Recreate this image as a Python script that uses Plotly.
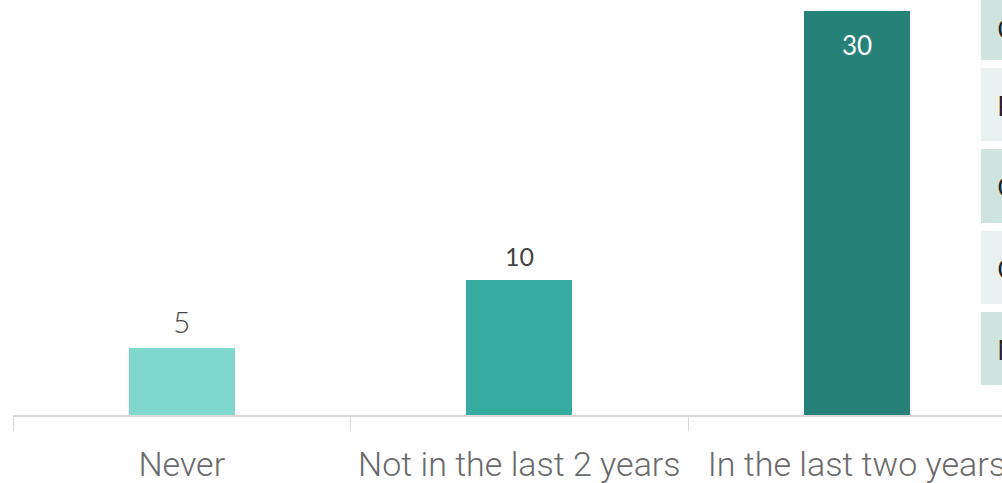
import plotly.graph_objects as go

categories = ["Never", "Not in the last 2 years", "In the last two years"]
values = [5, 10, 30]
bar_colors = ["#7fd8cc", "#36ab9f", "#268176"]
side_labels = ["Often", "Rarely", "Occasionally", "Once", "Never"]

W, H = 1002, 483
ml, mr, mt, mb = 13, 0, 0, 68

fig = go.Figure()
fig.add_trace(go.Bar(
    x=categories, y=values, marker_color=bar_colors, width=0.315,
    marker_line_width=0, hoverinfo="skip",
))

# value labels
for i, (c, v) in enumerate(zip(categories, values)):
    if v == max(values):
        fig.add_annotation(x=c, y=v, text=str(v), showarrow=False, yanchor="top",
                           yshift=-16, font=dict(family="Lato", size=26, color="white"))
    else:
        fig.add_annotation(x=c, y=v, text=str(v), showarrow=False, yanchor="bottom",
                           yshift=7, font=dict(family="Lato", size=30 if i == 0 else 25,
                                               color="#444444", weight=300 if i == 0 else 400))

# side panel (cut off at the right edge)
rows = [(-5, 60), (68, 141), (149, 223), (231, 304), (312, 385)]
row_colors = ["#cfe3df", "#e8f1ef", "#cfe3df", "#e8f1ef", "#cfe3df"]
pw = W - ml - mr
ph = H - mt - mb
def px_to_paper_x(px):
    return (px - ml) / pw
def px_to_paper_y(py):
    return (H - mb - py) / ph
for (t, b), col, lab in zip(rows, row_colors, side_labels):
    fig.add_shape(type="rect", xref="paper", yref="paper",
                  x0=px_to_paper_x(981), x1=px_to_paper_x(1100),
                  y0=px_to_paper_y(b), y1=px_to_paper_y(t),
                  fillcolor=col, line_width=0, layer="below")
    fig.add_annotation(xref="paper", yref="paper", x=px_to_paper_x(995),
                       y=px_to_paper_y((t + b) / 2), text=lab, showarrow=False,
                       xanchor="left", yanchor="middle",
                       font=dict(family="Open Sans", size=28, color="#222222"))

fig.update_layout(
    width=W, height=H,
    margin=dict(l=ml, r=mr, t=mt, b=mb, pad=0, autoexpand=False),
    plot_bgcolor="white", paper_bgcolor="white",
    showlegend=False,
    bargap=0,
)
fig.update_xaxes(
    range=[-0.5, 2.43], showgrid=False, zeroline=False, automargin=False,
    showline=True, linecolor="#d9d9d9", linewidth=2,
    ticks="outside", tickson="boundaries", ticklen=14, tickcolor="#d9d9d9", tickwidth=1,
    tickfont=dict(family="Roboto", size=34, color="#6a6a6a", weight=300),
    ticklabelstandoff=18,
)
fig.update_yaxes(range=[0, 30.8], visible=False, automargin=False)

fig.write_html(
    "out.html",
    config={"displayModeBar": False},
    post_script="document.body.style.margin='0';document.body.style.overflow='hidden';",
)
